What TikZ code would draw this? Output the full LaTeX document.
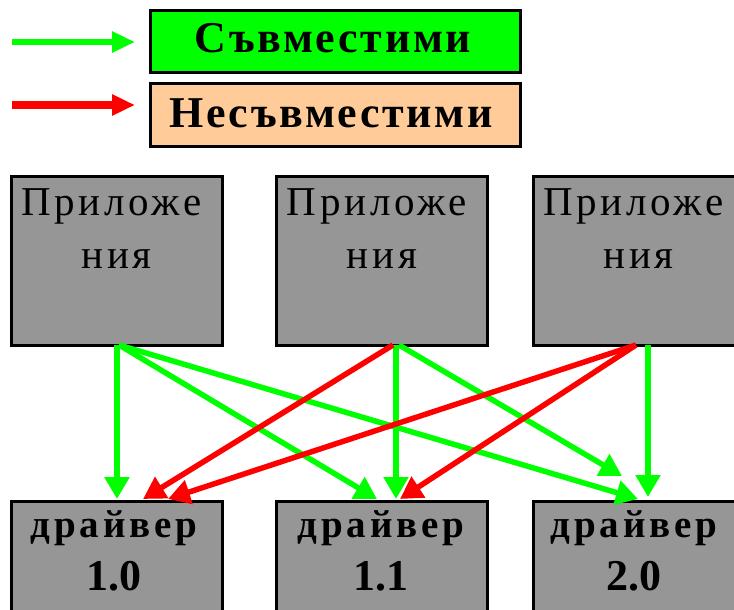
\documentclass[tikz,border=0pt]{standalone}
\usepackage{fontspec}
\setmainfont{Liberation Serif}
\newfontfamily\appfont[LetterSpace=9]{Liberation Serif}
\newfontfamily\drvfont[LetterSpace=10]{Liberation Serif Bold}
\newfontfamily\numfont{Liberation Serif Bold}
\newfontfamily\legfont[LetterSpace=6]{Liberation Serif Bold}
\usetikzlibrary{arrows.meta}

\definecolor{okgreen}{RGB}{0,255,0}
\definecolor{badred}{RGB}{255,0,0}
\definecolor{peach}{RGB}{255,204,153}
\definecolor{boxgray}{RGB}{150,150,150}

\tikzset{
  box/.style={draw=black, line width=3pt, fill=boxgray, minimum width=211pt,
    inner sep=0pt, outer sep=0pt},
  appbox/.style={box, minimum height=169pt},
  drvbox/.style={box, minimum height=150pt},
  legbox/.style={draw=black, line width=3pt, minimum width=370pt,
    minimum height=62pt, inner sep=0pt, outer sep=0pt},
  apptxt/.style={anchor=base, inner sep=0pt, font=\appfont\fontsize{41}{41}\selectfont},
  drvtxt/.style={anchor=base, inner sep=0pt, font=\drvfont\fontsize{39}{39}\selectfont},
  numtxt/.style={anchor=base, inner sep=0pt, font=\numfont\fontsize{44}{44}\selectfont},
  legtxt/.style={anchor=base, inner sep=0pt, font=\legfont\fontsize{44}{44}\selectfont},
  arr/.style={line width=5.5pt, -{Triangle[length=22pt,width=24pt]}},
  ok/.style={arr, draw=okgreen},
  bad/.style={arr, draw=badred},
}

\begin{document}
\begin{tikzpicture}[x=1pt, y=-1pt]
\useasboundingbox (0,0) rectangle (734,610);
\clip (0,0) rectangle (734,610);

% legend
\coordinate (lg0) at (12,42);
\coordinate (lg1) at (135,42);
\coordinate (lr0) at (12,105);
\coordinate (lr1) at (135,105);
\draw[draw=okgreen, line width=6pt, -{Triangle[length=23pt,width=20pt]}] (lg0) -- (lg1);
\draw[draw=badred, line width=8pt, -{Triangle[length=23pt,width=20pt]}] (lr0) -- (lr1);
\node[legbox, fill=okgreen] (legok) at (335,42) {};
\node[legbox, fill=peach, minimum height=63pt] (legbad) at (335,115) {};
\node[legtxt] (legoktxt) at (333,53) {Съвместими};
\node[legtxt] (legbadtxt) at (331,127) {Несъвместими};

% application boxes
\node[appbox] (app1) at (116.5,260.5) {};
\node[appbox] (app2) at (382,260.5) {};
\node[appbox] (app3) at (638.5,260.5) {};
\foreach \n/\x in {1/116.5, 2/382, 3/638.5}{
  \node[apptxt] (app\n a) at (\x-5,215) {Приложе};
  \node[apptxt] (app\n b) at (\x,268) {ния};
}

% driver boxes
\node[drvbox] (drv1) at (116.5,576) {};
\node[drvbox] (drv2) at (382,576) {};
\node[drvbox] (drv3) at (638.5,576) {};
\foreach \n/\x/\v in {1/114/1.0, 2/381/1.1, 3/634/2.0}{
  \node[drvtxt] (drv\n a) at (\x,537) {драйвер};
  \node[numtxt] (drv\n b) at (\x,590) {\v};
}

% compatible links
\draw[ok] ([xshift=0.5pt]app1.south) -- ([xshift=0.5pt,yshift=2pt]drv1.north);
\draw[ok] ([xshift=2.5pt]app1.south) -- ([xshift=-5pt,yshift=2pt]drv2.north);
\draw[ok] ([xshift=2.5pt]app1.south) -- ([xshift=-0.5pt,yshift=2pt]drv3.north);
\draw[ok] ([xshift=14pt]app2.south) -- ([xshift=14pt,yshift=2pt]drv2.north);
\draw[ok] ([xshift=17pt]app2.south) -- ([xshift=-16.5pt,yshift=25pt]drv3.north);
\draw[ok] ([xshift=9.5pt]app3.south) -- ([xshift=9.5pt,yshift=4pt]drv3.north);

% incompatible links
\draw[bad] ([xshift=11pt]app2.south) -- ([xshift=26.5pt,yshift=2pt]drv1.north);
\draw[bad] ([xshift=-2.5pt]app3.south) -- ([xshift=51.5pt,yshift=2pt]drv1.north);
\draw[bad] ([xshift=-2.5pt]app3.south) -- ([xshift=18pt,yshift=2pt]drv2.north);
\end{tikzpicture}
\end{document}
